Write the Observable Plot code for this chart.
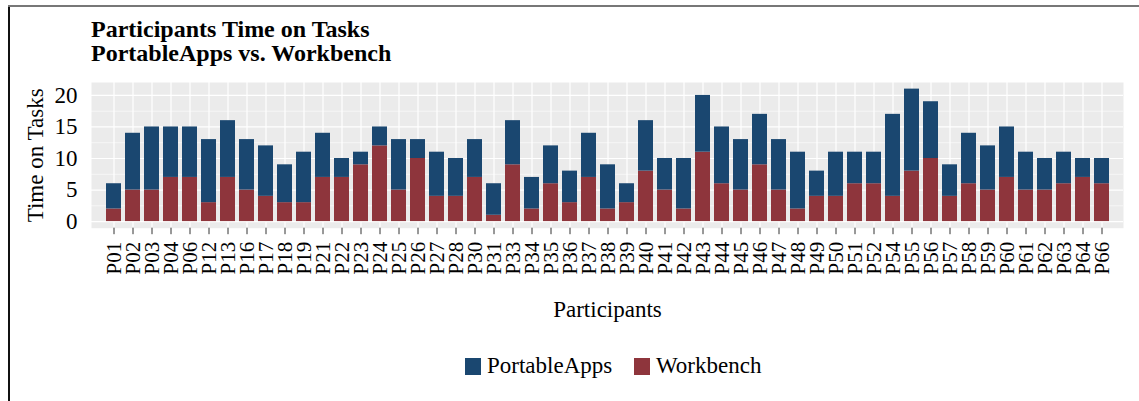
<!DOCTYPE html>
<html>
<head>
<meta charset="utf-8">
<script src="https://cdn.jsdelivr.net/npm/d3@7"></script>
<script src="https://cdn.jsdelivr.net/npm/@observablehq/plot@0.6"></script>
<style>
  html, body { margin: 0; padding: 0; background: #fff; }
  #wrap { position: relative; width: 1139px; height: 401px; overflow: hidden; font-family: "Liberation Serif", "DejaVu Serif", serif; color: #000; }
  #wrap svg { position: absolute; left: 0; top: 0; }
  .bl { position: absolute; left: 8px; top: 5px; width: 1.5px; height: 400px; background: #111; }
  .bt { position: absolute; left: 8px; top: 5px; width: 1140px; height: 1.5px; background: #777; }
  .title { position: absolute; left: 91px; top: 17px; font-weight: bold; font-size: 24px; line-height: 24px; white-space: nowrap; }
  .leg { position: absolute; top: 353.7px; font-size: 23px; line-height: 23px; white-space: nowrap; display: flex; align-items: center; }
  .sw { position: absolute; width: 16px; height: 16.5px; }
</style>
</head>
<body>
<div id="wrap"></div>
<script>
const participants = ["P01","P02","P03","P04","P06","P12","P13","P16","P17","P18","P19","P21","P22","P23","P24","P25","P26","P27","P28","P30","P31","P33","P34","P35","P36","P37","P38","P39","P40","P41","P42","P43","P44","P45","P46","P47","P48","P49","P50","P51","P52","P54","P55","P56","P57","P58","P59","P60","P61","P62","P63","P64","P66"];
const workbench    = [2,5,5,7,7,3,7,5,4,3,3,7,7,9,12,5,10,4,4,7,1,9,2,6,3,7,2,3,8,5,2,11,6,5,9,5,2,4,4,6,6,4,8,10,4,6,5,7,5,5,6,7,6];
const portableApps = [4,9,10,8,8,10,9,8,8,6,8,7,3,2,3,8,3,7,6,6,5,7,5,6,5,7,7,3,8,5,8,9,9,8,8,8,9,4,7,5,5,13,13,9,5,8,7,8,6,5,5,3,4];
const seriesNames = ["PortableApps", "Workbench"];
const seriesColors = ["#1A4770", "#8E353C"];
const yTicks = [0, 5, 10, 15, 20];
const yMinor = [2.5, 7.5, 12.5, 17.5];
const titleLines = ["Participants Time on Tasks", "PortableApps vs. Workbench"];

const data = [];
participants.forEach((p, i) => {
  data.push({participant: p, series: "Workbench", value: workbench[i]});
  data.push({participant: p, series: "PortableApps", value: portableApps[i]});
});

const FONT = "Liberation Serif, DejaVu Serif, serif";
const chart = Plot.plot({
  width: 1139,
  height: 401,
  marginLeft: 91,
  marginRight: 16,
  marginTop: 82,
  marginBottom: 173.3,
  style: {fontFamily: FONT, fontSize: "23px", color: "#000", background: "transparent", overflow: "visible"},
  x: {type: "band", domain: participants, paddingInner: 0.227, paddingOuter: 0.196},
  y: {domain: [-1.05, 22.05]},
  color: {domain: seriesNames, range: seriesColors},
  marks: [
    Plot.frame({fill: "#EBEBEB", stroke: null}),
    Plot.gridY(yMinor, {stroke: "#fff", strokeOpacity: 1, strokeWidth: 0.6}),
    Plot.gridY(yTicks, {stroke: "#fff", strokeOpacity: 1, strokeWidth: 1.2}),
    Plot.gridX(participants, {stroke: "#fff", strokeOpacity: 1, strokeWidth: 1.2}),
    Plot.barY(data, {x: "participant", y: "value", fill: "series", z: "series", order: ["Workbench", "PortableApps"]}),
    Plot.axisY(yTicks, {tickSize: 0, tickPadding: 14, fontSize: 23, fill: "#000", label: null}),
    Plot.axisX({tickRotate: -90, tickSize: 6.5, tickPadding: 7, stroke: "#333", fontSize: 21, fill: "#000", label: null}),
    Plot.text(["Time on Tasks"], {frameAnchor: "left", dx: -56, rotate: -90, fontSize: 23, fill: "#000", textAnchor: "middle", lineAnchor: "middle"}),
    Plot.text(["Participants"], {frameAnchor: "bottom", dy: 88.5, fontSize: 23, fill: "#000", textAnchor: "middle", lineAnchor: "bottom"})
  ]
});

const wrap = document.getElementById("wrap");
wrap.appendChild(chart);

const bl = document.createElement("div"); bl.className = "bl"; wrap.appendChild(bl);
const bt = document.createElement("div"); bt.className = "bt"; wrap.appendChild(bt);

const title = document.createElement("div");
title.className = "title";
title.innerHTML = titleLines.join("<br>");
wrap.appendChild(title);

// legend
const legPos = [{sw: 465, tx: 487}, {sw: 634, tx: 656}];
seriesNames.forEach((name, i) => {
  const sw = document.createElement("div");
  sw.className = "sw";
  sw.style.left = legPos[i].sw + "px";
  sw.style.top = "358px";
  sw.style.background = seriesColors[i];
  wrap.appendChild(sw);
  const t = document.createElement("div");
  t.className = "leg";
  t.style.left = legPos[i].tx + "px";
  t.textContent = name;
  wrap.appendChild(t);
});
</script>
</body>
</html>
